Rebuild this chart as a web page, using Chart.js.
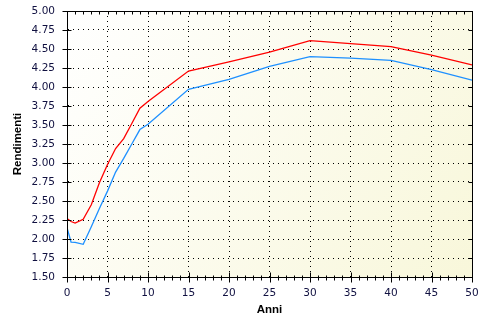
<!DOCTYPE html>
<html>
<head>
<meta charset="utf-8">
<script src="https://cdn.jsdelivr.net/npm/chart.js@4/dist/chart.umd.min.js"></script>
<style>
  html, body { margin: 0; padding: 0; background: #ffffff; }
  #wrap { width: 492px; height: 330px; }
</style>
</head>
<body>
<div id="wrap"><canvas id="grafico"></canvas></div>
<script>
// dati
const anni = [0, 0.5, 1, 2, 3, 4, 5, 6, 7, 8, 9, 10, 15, 20, 25, 30, 35, 40, 45, 50];
const rendRossa = [2.27, 2.23, 2.21, 2.26, 2.45, 2.74, 2.98, 3.19, 3.32, 3.52, 3.72, 3.81, 4.21, 4.33, 4.46, 4.61, 4.57, 4.53, 4.42, 4.29];
const rendBlu = [2.15, 1.96, 1.955, 1.93, 2.16, 2.40, 2.63, 2.88, 3.06, 3.25, 3.44, 3.51, 3.97, 4.10, 4.27, 4.40, 4.38, 4.35, 4.23, 4.09];

const FONT = 'DejaVu Sans';

// sfondo sfumato + cornice e tacche
const cornice = {
  id: 'cornice',
  beforeDraw(chart) {
    const { ctx, chartArea: a } = chart;
    const g = ctx.createLinearGradient(a.left, a.top, a.right, a.bottom);
    g.addColorStop(0, '#ffffff');
    g.addColorStop(1, '#f8f7da');
    ctx.save();
    ctx.fillStyle = g;
    ctx.fillRect(a.left, a.top, a.right - a.left, a.bottom - a.top);
    ctx.restore();
  },
  afterDraw(chart) {
    const { ctx, chartArea: a, scales } = chart;
    const x = scales.x, y = scales.y;
    const L = Math.round(a.left) + 0.5, R = Math.round(a.right) + 0.5;
    const T = Math.round(a.top) + 0.5, B = Math.round(a.bottom) + 0.5;
    ctx.save();
    ctx.strokeStyle = '#000000';
    ctx.lineWidth = 1;
    ctx.beginPath();
    ctx.rect(L, T, R - L, B - T);
    // tacche asse x
    for (let v = x.min; v <= x.max; v += 1) {
      const px = Math.round(x.getPixelForValue(v)) + 0.5;
      const major = v % 5 === 0;
      ctx.moveTo(px, B - (major ? 5 : 2));
      ctx.lineTo(px, B + (major ? 5 : 3));
      ctx.moveTo(px, T);
      ctx.lineTo(px, T + 3);
    }
    // tacche asse y
    for (let v = y.min; v <= y.max + 1e-9; v += 0.25) {
      const py = Math.round(y.getPixelForValue(v)) + 0.5;
      ctx.moveTo(L - 5, py);
      ctx.lineTo(L + 4, py);
      ctx.moveTo(R - 4, py);
      ctx.lineTo(R, py);
    }
    ctx.stroke();
    ctx.restore();
  }
};

new Chart(document.getElementById('grafico'), {
  type: 'line',
  data: {
    datasets: [
      {
        label: 'Rossa',
        data: anni.map((a, i) => ({ x: a, y: rendRossa[i] })),
        borderColor: '#ff0000',
        borderWidth: 1.3,
        pointRadius: 0,
        tension: 0,
        fill: false,
      },
      {
        label: 'Blu',
        data: anni.map((a, i) => ({ x: a, y: rendBlu[i] })),
        borderColor: '#1e90ff',
        borderWidth: 1.3,
        pointRadius: 0,
        tension: 0,
        fill: false,
      },
    ],
  },
  options: {
    responsive: true,
    maintainAspectRatio: false,
    animation: false,
    events: [],
    layout: { padding: { left: 0, top: 11, right: 20, bottom: 0 } },
    plugins: {
      legend: { display: false },
      tooltip: { enabled: false },
    },
    scales: {
      x: {
        type: 'linear',
        min: 0,
        max: 50,
        afterFit: (s) => { s.height = 53; s.paddingLeft = 0; s.paddingRight = 0; },
        grid: { color: '#000000', lineWidth: 1, drawTicks: false },
        border: { color: '#000000', width: 1, dash: [1, 4] },
        ticks: {
          stepSize: 5,
          padding: 10,
          color: '#101040',
          font: { family: FONT, size: 10.5 },
          maxRotation: 0,
        },
        title: {
          display: true,
          text: 'Anni',
          color: '#000000',
          font: { family: 'Liberation Sans', size: 11.5, weight: 'bold' },
          padding: { top: 0, bottom: 13 },
        },
      },
      y: {
        min: 1.5,
        max: 5,
        afterFit: (s) => { s.width = 67; s.paddingTop = 0; s.paddingBottom = 0; },
        grid: { color: '#000000', lineWidth: 1, drawTicks: false },
        border: { color: '#000000', width: 1, dash: [1, 4] },
        ticks: {
          stepSize: 0.25,
          padding: 12,
          color: '#101040',
          font: { family: FONT, size: 10.5 },
          callback: (v) => v.toFixed(2),
        },
        title: {
          display: true,
          text: 'Rendimenti',
          color: '#000000',
          font: { family: 'Liberation Sans', size: 11.5, weight: 'bold' },
          padding: { top: 11, bottom: 0 },
        },
      },
    },
  },
  plugins: [cornice],
});
</script>
</body>
</html>
